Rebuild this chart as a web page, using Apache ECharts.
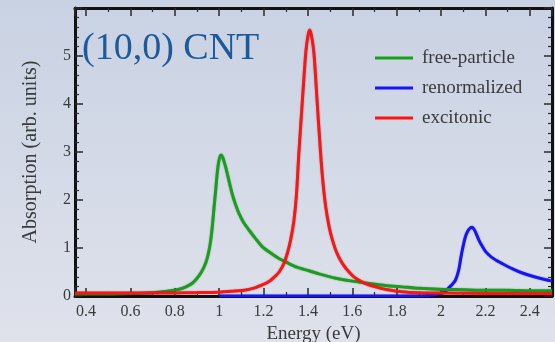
<!DOCTYPE html>
<html>
<head>
<meta charset="utf-8">
<title>(10,0) CNT absorption</title>
<script src="https://cdn.jsdelivr.net/npm/echarts@6/dist/echarts.min.js"></script>
<style>
  html, body { margin: 0; padding: 0; }
  #chart { width: 555px; height: 342px; }
</style>
</head>
<body>
<div id="chart"></div>
<script>
// Photon energy (eV) and absorption (arb. units) for each spectrum
const freeParticleE = [0.35, 0.5, 0.6, 0.7, 0.78, 0.82, 0.85, 0.88, 0.9, 0.92, 0.94, 0.952, 0.962, 0.97, 0.977, 0.985, 0.991, 0.998, 1.004, 1.009, 1.015, 1.022, 1.03, 1.037, 1.048, 1.059, 1.074, 1.089, 1.11, 1.134, 1.165, 1.194, 1.224, 1.269, 1.3, 1.35, 1.4, 1.45, 1.525, 1.6, 1.675, 1.75, 1.825, 1.9, 1.99, 2.1, 2.2, 2.3, 2.4, 2.5];
const freeParticleA = [0.04, 0.04, 0.05, 0.07, 0.11, 0.14, 0.19, 0.27, 0.37, 0.5, 0.7, 0.9, 1.17, 1.5, 1.86, 2.25, 2.56, 2.8, 2.91, 2.94, 2.9, 2.8, 2.67, 2.54, 2.32, 2.12, 1.9, 1.72, 1.53, 1.375, 1.19, 1.03, 0.92, 0.78, 0.71, 0.6, 0.53, 0.46, 0.37, 0.31, 0.26, 0.22, 0.19, 0.16, 0.14, 0.13, 0.12, 0.12, 0.11, 0.11];

const renormalizedE = [1.0, 1.5, 1.9, 1.96, 2.0, 2.02, 2.035, 2.05, 2.065, 2.08, 2.09, 2.1, 2.11, 2.12, 2.13, 2.14, 2.15, 2.16, 2.17, 2.185, 2.2, 2.215, 2.23, 2.25, 2.27, 2.32, 2.36, 2.42, 2.5];
const renormalizedA = [0.0, 0.0, 0.0, 0.02, 0.05, 0.1, 0.17, 0.24, 0.33, 0.55, 0.82, 1.05, 1.24, 1.35, 1.41, 1.43, 1.38, 1.28, 1.17, 1.04, 0.93, 0.86, 0.8, 0.74, 0.69, 0.57, 0.49, 0.4, 0.31];

const excitonicE = [0.35, 0.6, 0.8, 0.9, 1.0, 1.06, 1.12, 1.16, 1.194, 1.224, 1.254, 1.27, 1.292, 1.307, 1.322, 1.337, 1.348, 1.359, 1.374, 1.39, 1.4, 1.408, 1.416, 1.427, 1.442, 1.457, 1.468, 1.48, 1.495, 1.51, 1.53, 1.555, 1.585, 1.615, 1.66, 1.705, 1.76, 1.825, 1.945, 2.0, 2.2, 2.5];
const excitonicA = [0.06, 0.06, 0.065, 0.07, 0.08, 0.1, 0.125, 0.17, 0.23, 0.3, 0.42, 0.5, 0.68, 0.89, 1.17, 1.58, 2.1, 2.97, 4.01, 5.06, 5.42, 5.54, 5.42, 5.06, 4.01, 2.97, 2.35, 1.86, 1.45, 1.17, 0.9, 0.68, 0.5, 0.37, 0.26, 0.19, 0.13, 0.09, 0.06, 0.06, 0.05, 0.05];

// Axis tick labels
const xTickLabels = [0.4, 0.6, 0.8, 1, 1.2, 1.4, 1.6, 1.8, 2, 2.2, 2.4];
const yTickLabels = [0, 1, 2, 3, 4, 5];

const seriesNames = ['free-particle', 'renormalized', 'excitonic'];
const seriesColors = ['#17a11b', '#1414ff', '#ff1414'];

const pair = (xs, ys) => xs.map((x, i) => [x, ys[i]]);

const FONT = 'Liberation Serif';
const TEXT_COLOR = '#3a3a3a';
const TICK_COLOR = '#2a2a2a';

const X_MIN = 0.35, X_MAX = 2.5, Y_MIN = 0, Y_MAX = 6;

const isLabelled = (list, v) => list.some(t => Math.abs(t - v) < 1e-6);

// Energy axes: nice 0.2 eV steps (splitNumber) with one minor tick between
function xAxisFor(position, withLabels) {
  return {
    type: 'value', position: position, min: X_MIN, max: X_MAX, splitNumber: 10,
    axisLine: { show: true, onZero: false, lineStyle: { color: '#111', width: 3 } },
    splitLine: { show: false },
    axisTick: { show: true, inside: true, length: 8, lineStyle: { color: TICK_COLOR, width: 1.5 } },
    minorTick: { show: true, splitNumber: 2, length: 4, lineStyle: { color: TICK_COLOR, width: 1.2 } },
    axisLabel: withLabels
      ? { show: true, fontSize: 16, margin: 8, fontFamily: FONT, color: TEXT_COLOR,
          showMinLabel: false, showMaxLabel: false,
          formatter: v => isLabelled(xTickLabels, v) ? String(Math.round(v * 10) / 10) : '' }
      : { show: false }
  };
}

function yAxisFor(position, withLabels) {
  return {
    type: 'value', position: position, min: Y_MIN, max: Y_MAX, interval: 1,
    axisLine: { show: true, onZero: false, lineStyle: { color: '#111', width: 3 } },
    splitLine: { show: false },
    axisTick: { show: true, inside: true, length: 8, lineStyle: { color: TICK_COLOR, width: 1.5 } },
    minorTick: { show: true, splitNumber: 5, length: 4, lineStyle: { color: TICK_COLOR, width: 1.2 } },
    axisLabel: withLabels
      ? { show: true, fontSize: 16, margin: 4, fontFamily: FONT, color: TEXT_COLOR,
          formatter: v => isLabelled(yTickLabels, v) ? String(v) : '' }
      : { show: false }
  };
}

const xAxes = [xAxisFor('bottom', true), xAxisFor('top', false)];
xAxes[0].name = 'Energy (eV)';
xAxes[0].nameLocation = 'middle';
xAxes[0].nameGap = 25;
xAxes[0].nameTextStyle = { fontSize: 19, fontFamily: FONT, color: TEXT_COLOR };

const yAxes = [yAxisFor('left', true), yAxisFor('right', false)];
yAxes[0].name = 'Absorption (arb. units)';
yAxes[0].nameLocation = 'middle';
yAxes[0].nameGap = 34;
yAxes[0].nameTextStyle = { fontSize: 20, fontFamily: FONT, color: TEXT_COLOR };

const datasets = [
  pair(freeParticleE, freeParticleA),
  pair(renormalizedE, renormalizedA),
  pair(excitonicE, excitonicA)
];
// Draw order: blue baseline underneath, then green, then red on top
const zOrder = [3, 2, 4];

const series = seriesNames.map((name, i) => ({
  name: name,
  type: 'line',
  xAxisIndex: 0,
  yAxisIndex: 0,
  data: datasets[i],
  showSymbol: false,
  smooth: 0.25,
  z: zOrder[i],
  color: seriesColors[i],
  lineStyle: {
    width: 3,
    color: seriesColors[i],
    shadowColor: 'rgba(0,0,0,0.35)',
    shadowBlur: 1.5
  }
}));

const chart = echarts.init(document.getElementById('chart'));
chart.setOption({
  animation: false,
  backgroundColor: {
    type: 'linear', x: 0, y: 0, x2: 0, y2: 1,
    colorStops: [
      { offset: 0, color: '#c9d2e3' },
      { offset: 1, color: '#dfe2eb' }
    ]
  },
  grid: {
    left: 75, right: 3, top: 8, bottom: 46,
    containLabel: false, outerBoundsMode: 'none'
  },
  legend: {
    data: seriesNames,
    orient: 'vertical',
    left: 370, top: 43,
    icon: 'rect',
    itemWidth: 38, itemHeight: 3,
    itemGap: 10,
    textStyle: { fontSize: 19, lineHeight: 20, fontFamily: FONT, color: TEXT_COLOR, padding: [0, 0, 0, 4] }
  },
  graphic: [{
    type: 'text',
    left: 82, top: 30,
    style: {
      text: '(10,0) CNT',
      font: '38px "Liberation Serif"',
      fill: '#1d5a9d'
    }
  }],
  xAxis: xAxes,
  yAxis: yAxes,
  series: series
});
</script>
</body>
</html>
